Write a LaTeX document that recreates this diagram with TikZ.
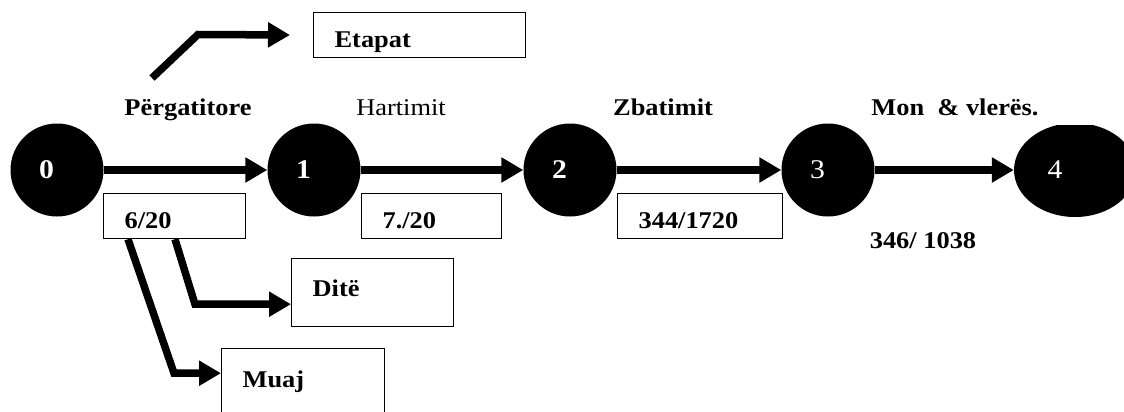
\documentclass[tikz,border=0pt]{standalone}
\usepackage{fontspec}
\setmainfont{Liberation Serif}[FakeStretch=1.1]
\usetikzlibrary{arrows.meta,positioning,shapes.geometric}

\begin{document}
\begin{tikzpicture}[
	x = 1pt, y = -1pt, % pixel grid, y runs downwards
	> = {Triangle[length=22pt, width=24pt]}, % arrow head style
	flow/.style={line width=7.5pt, ->},
	event/.style={circle, fill=black, inner sep=0pt, minimum size=93pt},
	evlabel/.style={text=white, xshift=-10.5pt, font=\fontsize{27}{30}\selectfont},
	phase/.style={anchor=base, font=\fontsize{24}{28}\selectfont\bfseries},
	dur/.style={draw, line width=1.2pt, anchor=north west, inner xsep=21pt, inner ysep=0pt, minimum height=45pt, align=left, text height=25pt, text depth=0pt, font=\fontsize{24}{28}\selectfont\bfseries},
	unit/.style={dur, text height=17pt, text depth=10pt},
	]
	\clip (0,0) rectangle (1124,412);

	% Events
	\node[event, label={[evlabel]center:\textbf{0}}] (n0) at (57,170) {};
	\node[event, label={[evlabel]center:\textbf{1}}] (n1) at (314,170) {};
	\node[event, label={[evlabel]center:\textbf{2}}] (n2) at (570,170) {};
	\node[event, label={[evlabel]center:3}] (n3) at (828,170) {};
	\begin{scope}
		\clip (990,125) rectangle (1124,412);
		\node[event, ellipse, minimum width=122pt, minimum height=94pt, label={[evlabel, xshift=-9.5pt]center:4}] (n4) at (1075,170) {};
	\end{scope}

	% Phases
	\node[phase] (p01) at (188,115) {Përgatitore};
	\node[phase, font=\fontsize{24}{28}\selectfont] (p12) at (401,115) {Hartimit};
	\node[phase] (p23) at (663,115) {Zbatimit};
	\node[phase] (p34) at (955,115) {Mon\ \ \& vlerës.};

	% Durations
	\node[dur, text width=100pt] (b01) at (103,193) {6/20};
	\node[dur, text width=98pt] (b12) at (361,193) {7./20};
	\node[dur, text width=123pt] (b23) at (617,193) {344/1720};
	\node[phase, anchor=center] (b34) at (923,241) {346/ 1038};

	% Legend
	\node[dur, text width=170pt] (etapat) at (313,12) {Etapat};
	\node[unit, text width=120pt, minimum height=68pt] (dite) at (291,258) {Ditë};
	\node[unit, text width=121pt, minimum height=70pt] (muaj) at (221,348) {Muaj};

	% Arrows
	\draw[flow] (n0) -- (n1);
	\draw[flow] (n1) -- (n2);
	\draw[flow] (n2) -- (n3);
	\draw[flow] (n3) -- (n4);

	\coordinate (etail) at (152,78);
	\draw[flow, shorten >=23pt] (etail) -- ++(46,-43.5) -- (etapat.west);
	\draw[flow] ([xshift=72pt]b01.south west) -- ++(20,65) coordinate (dbend) -- (dbend -| dite.west);
	\draw[flow] ([xshift=25pt]b01.south west) -- ++(46,134) coordinate (mbend) -- (mbend -| muaj.west);

\end{tikzpicture}
\end{document}
